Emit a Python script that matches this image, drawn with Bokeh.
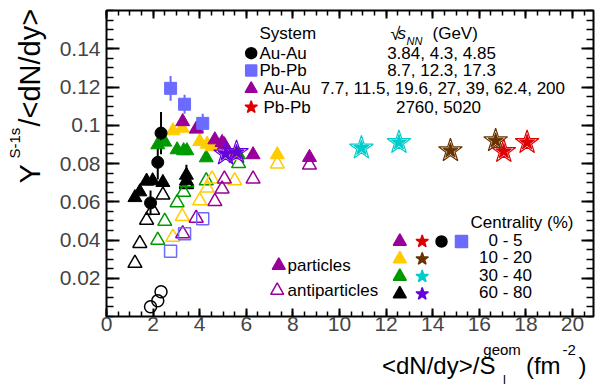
import numpy as np
from bokeh.plotting import figure
from bokeh.layouts import row, column
from bokeh.models import LinearAxis, FixedTicker, CustomJSTickFormatter, Label
from bokeh.embed import file_html
from bokeh.resources import INLINE

# ---------------- data ----------------
# Au-Au sqrt(sNN)=3.84, 4.3, 4.85 (0-5%)
circ_x = [1.89, 2.20, 2.34]
circ_part = [0.0594, 0.0806, 0.0959]
circ_err = [0.0065, 0.0090, 0.0110]
circ_anti = [0.0051, 0.0082, 0.0129]

# Pb-Pb sqrt(sNN)=8.7, 12.3, 17.3 (0-5%)
sq_x = [2.75, 3.35, 4.13]
sq_part = [0.1193, 0.1110, 0.1010]
sq_err = [0.0065, 0.0050, 0.0050]
sq_anti = [0.0341, 0.0433, 0.0511]

# Au-Au BES 7.7 ... 200 GeV, by centrality
tri_x_0_5 = [3.27, 3.85, 4.65, 4.96, 5.06, 6.29, 8.71]
tri_part_0_5 = [0.1019, 0.0980, 0.0924, 0.0910, 0.0898, 0.0846, 0.0832]
tri_anti_0_5 = [0.0433, 0.0514, 0.0601, 0.0667, 0.0719, 0.0719, 0.0792]

tri_x_10_20 = [2.85, 3.25, 4.00, 4.32, 4.53, 5.50, 7.33]
tri_part_10_20 = [0.0971, 0.0985, 0.0915, 0.0901, 0.0888, 0.0841, 0.0846]
tri_anti_10_20 = [0.0415, 0.0523, 0.0606, 0.0672, 0.0719, 0.0710, 0.0797]

tri_x_30_40 = [2.20, 2.50, 3.03, 3.31, 3.45, 4.28, 5.67]
tri_part_30_40 = [0.0898, 0.0912, 0.0872, 0.0867, 0.0867, 0.0830, 0.0845]
tri_anti_30_40 = [0.0399, 0.0498, 0.0595, 0.0650, 0.0700, 0.0710, 0.0800]

tri_x_60_80 = [1.22, 1.43, 1.72, 1.98, 2.42, 3.43, 3.43]
tri_part_60_80 = [0.0622, 0.0652, 0.0708, 0.0710, 0.0701, 0.0739, 0.0710]
tri_err_60_80 = [0.0, 0.0, 0.0, 0.0, 0.0, 0.0055, 0.0]
tri_anti_60_80 = [0.0278, 0.0382, 0.0504, 0.0556, 0.0635, 0.0696, 0.0690]

# Pb-Pb 2760, 5020 GeV, by centrality
star_x_0_5 = [17.05, 18.05]
star_part_0_5 = [0.0863, 0.0910]
star_x_10_20 = [14.76, 16.70]
star_part_10_20 = [0.0867, 0.0919]
star_x_30_40 = [10.94, 12.55]
star_part_30_40 = [0.0881, 0.0910]
star_x_60_80 = [5.11, 5.58]
star_part_60_80 = [0.0850, 0.0858]

centralities = ["0 - 5", "10 - 20", "30 - 40", "60 - 80"]
tri_colors = ["#990099", "#FFCC00", "#009900", "#000000"]
star_colors = ["#DD0000", "#663300", "#00CCCC", "#6600DD"]
circ_color = "#000000"
sq_color = "#6B6BFF"

systems = ["Au-Au", "Pb-Pb", "Au-Au", "Pb-Pb"]
energies = ["3.84, 4.3, 4.85", "8.7, 12.3, 17.3",
            "7.7, 11.5, 19.6, 27, 39, 62.4,  200", "2760, 5020"]

x_ticks = list(range(0, 21, 2))
y_ticks = [0.02, 0.04, 0.06, 0.08, 0.10, 0.12, 0.14]

XMAX, YMAX = 20.9, 0.16
W, H = 598, 386
LEFT_W = 50            # strip holding the y-axis title
BOT_H = 46             # strip holding the x-axis title
FX0, FX1, FY0, FY1 = 106, 593, 10, 316   # frame edges in page pixels
FONT = "Liberation Sans"

p = figure(width=W - LEFT_W, height=H - BOT_H, x_range=(0, XMAX), y_range=(0, YMAX),
           output_backend="svg", toolbar_location=None,
           min_border_left=FX0 - LEFT_W, min_border_right=W - FX1,
           min_border_top=FY0, min_border_bottom=H - BOT_H - FY1)
p.xgrid.visible = False
p.ygrid.visible = False
p.outline_line_color = "black"
p.outline_line_width = 2
p.background_fill_color = "white"
p.border_fill_color = "white"

xt = FixedTicker(ticks=x_ticks, minor_ticks=[float(v) for v in np.arange(0, 21.0, 0.5)])
yt = FixedTicker(ticks=y_ticks, minor_ticks=[float(v) for v in np.arange(0, 0.1601, 0.005)])

def style_axis(ax, tin, tmin):
    ax.axis_line_color = None
    ax.major_tick_in = tin
    ax.major_tick_out = 0
    ax.minor_tick_in = tmin
    ax.minor_tick_out = 0
    ax.major_tick_line_width = 2
    ax.minor_tick_line_width = 1.5
    ax.major_label_text_font = FONT
    ax.major_label_text_font_size = "21px"

p.xaxis.ticker = xt
p.yaxis.ticker = yt
p.yaxis.formatter = CustomJSTickFormatter(code="return (Math.round(tick*100)/100).toString();")
style_axis(p.xaxis[0], 8, 5)
style_axis(p.yaxis[0], 13, 7)
p.xaxis.major_label_standoff = 0
p.yaxis.major_label_standoff = 6

blank = CustomJSTickFormatter(code="return '';")
top = LinearAxis(ticker=xt, formatter=blank)
right = LinearAxis(ticker=yt, formatter=blank)
for ax, tin, tmin in [(top, 8, 5), (right, 12, 7)]:
    style_axis(ax, tin, tmin)
    ax.major_label_text_font_size = "1px"
    ax.major_label_standoff = 0
p.add_layout(top, "above")
p.add_layout(right, "right")

# ---------------- marks ----------------
LW = 1.5
TS = 14
tri_sets = [(tri_x_0_5, tri_part_0_5, tri_anti_0_5),
            (tri_x_10_20, tri_part_10_20, tri_anti_10_20),
            (tri_x_30_40, tri_part_30_40, tri_anti_30_40),
            (tri_x_60_80, tri_part_60_80, tri_anti_60_80)]
# antiparticles (open)
for (xs, yp, ya), c in zip(tri_sets[::-1], tri_colors[::-1]):
    p.scatter(xs, ya, marker="triangle", size=TS, fill_color=None, line_color=c, line_width=LW)
p.scatter(circ_x, circ_anti, marker="circle", size=12, fill_color=None, line_color=circ_color, line_width=LW)
p.scatter(sq_x, sq_anti, marker="square", size=12, fill_color=None, line_color=sq_color, line_width=LW)

# error bars
ex = np.array(tri_x_60_80); ey = np.array(tri_part_60_80); ee = np.array(tri_err_60_80)
m = ee > 0
p.segment(ex[m], ey[m] - ee[m], ex[m], ey[m] + ee[m], line_color="black", line_width=2)
cx = np.array(circ_x); cy = np.array(circ_part); ce = np.array(circ_err)
p.segment(cx, cy - ce, cx, cy + ce, line_color="black", line_width=2)
sx = np.array(sq_x); sy = np.array(sq_part); se = np.array(sq_err)
p.segment(sx, sy - se, sx, sy + se, line_color=sq_color, line_width=2)

# particles (filled)
for (xs, yp, ya), c in zip(tri_sets[::-1], tri_colors[::-1]):
    p.scatter(xs, yp, marker="triangle", size=TS, fill_color=c, line_color=c)
p.scatter(sq_x, sq_part, marker="square", size=12, fill_color=sq_color, line_color=sq_color)
p.scatter(circ_x, circ_part, marker="circle", size=12, fill_color=circ_color, line_color=circ_color)

star_sets = [(star_x_0_5, star_part_0_5), (star_x_10_20, star_part_10_20),
             (star_x_30_40, star_part_30_40), (star_x_60_80, star_part_60_80)]
for (xs, ys), c in zip(star_sets[::-1], star_colors[::-1]):
    p.scatter(xs, ys, marker="star", size=16, fill_color=c, line_color=c)
    p.scatter(xs, ys, marker="star", size=25, fill_color=None, line_color=c, line_width=1.2)

# ---------------- annotations (legends inside the frame) ----------------
def dx(px):
    return (px - FX0) / (FX1 - FX0) * XMAX

def dy(py):
    return (FY1 - py) / (FY1 - FY0) * YMAX

def txt(px, py, s, size=17, align="left", baseline="middle", style="normal", angle=0.0):
    p.add_layout(Label(x=dx(px), y=dy(py), text=s, text_font=FONT, text_font_size=f"{size}px",
                       text_align=align, text_baseline=baseline, text_font_style=style,
                       angle=angle, text_color="black"))

def mark(px, py, marker, color, size, filled=True):
    p.scatter([dx(px)], [dy(py)], marker=marker, size=size,
              fill_color=color if filled else None, line_color=color, line_width=LW)

# system legend
txt(259, 33, "System")
txt(390, 33, "√", 18)
txt(397, 33, "s", 17, style="italic")
txt(406, 40, "NN", 11, style="italic")
txt(432, 33, "(GeV)")
rows = [52.7, 70.0, 88.3, 106.7]
leg_marks = [("circle", circ_color, 11), ("square", sq_color, 11),
             ("triangle", tri_colors[0], 12), ("star", star_colors[0], 13)]
sys_x = [259, 259, 263, 263]
for r, (mk, col, sz), sname, sx0 in zip(rows, leg_marks, systems, sys_x):
    mark(250.7, r, mk, col, sz)
    txt(sx0, r, sname)
for r, en, cxp, al in zip(rows, energies, [441, 441, 320, 438], ["center", "center", "left", "center"]):
    txt(cxp, r, en, align=al)

# centrality legend
txt(470, 221.7, "Centrality (%)")
crow = [241.0, 258.5, 276.0, 293.5]
for i, (r, lab) in enumerate(zip(crow, centralities)):
    mark(399.3, r, "triangle", tri_colors[i], 13)
    mark(421.7, r, "star", star_colors[i], 13)
    txt(505, r - 1.5, lab, align="center")
mark(441, crow[0], "circle", circ_color, 11)
mark(461, crow[0], "square", sq_color, 12)

# particles / antiparticles legend
mark(278.3, 265, "triangle", tri_colors[0], 13)
txt(287, 265, "particles")
mark(276.7, 290, "triangle", tri_colors[0], 13, filled=False)
txt(287, 290, "antiparticles")

# ---------------- axis titles in their own strips ----------------
def strip(width, height):
    f = figure(width=width, height=height, x_range=(0, width), y_range=(0, height),
               output_backend="svg", toolbar_location=None,
               x_axis_type=None, y_axis_type=None, min_border=0)
    f.outline_line_color = None
    f.background_fill_color = "white"
    f.border_fill_color = "white"
    f.grid.visible = False
    return f

ly = strip(LEFT_W, H)
lx = strip(W - LEFT_W, BOT_H)

def ltxt(f, ox, oy, px, py, s, size, angle=0.0):
    # (px, py): page pixels of the text's left end / vertical middle;
    # (ox, oy): strip's top-left corner in page pixels
    f.add_layout(Label(x=px - ox, y=f.height - (py - oy), text=s, text_font=FONT,
                       text_font_size=f"{size}px", text_align="left",
                       text_baseline="middle", angle=angle, text_color="black"))

OX, OY = LEFT_W, H - BOT_H
ltxt(lx, OX, OY, 360, 365, "<dN/dy>/S", 24)
ltxt(lx, OX, OY, 474, 348.5, "geom", 15)
ltxt(lx, OX, OY, 496, 379, "I", 12)
ltxt(lx, OX, OY, 522, 365, "(fm", 24)
ltxt(lx, OX, OY, 563, 349, "-2", 15)
ltxt(lx, OX, OY, 581, 365, ")", 24)

A = np.pi / 2
ltxt(ly, 0, 0, 29, 183, "Y", 29, angle=A)
ltxt(ly, 0, 0, 14, 158, "S-1s", 15, angle=A)
ltxt(ly, 0, 0, 29, 126, "/<dN/dy>", 29, angle=A)

layout = row(ly, column(p, lx, spacing=0), spacing=0)
open("out.html", "w").write(file_html(layout, INLINE))
